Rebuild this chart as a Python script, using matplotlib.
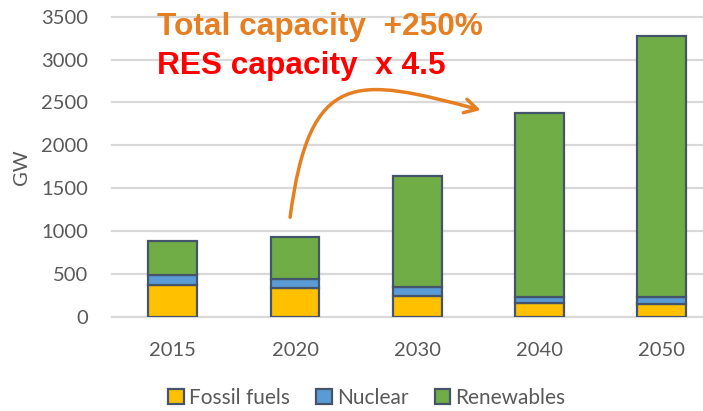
import matplotlib
matplotlib.use("Agg")
import matplotlib.pyplot as plt
from matplotlib.path import Path
from matplotlib.patches import FancyArrowPatch, Patch
import numpy as np

years = ["2015", "2020", "2030", "2040", "2050"]
fossil = [370, 340, 240, 155, 150]
nuclear = [115, 105, 110, 80, 85]
renewables = [400, 485, 1295, 2145, 3045]
yticks = [0, 500, 1000, 1500, 2000, 2500, 3000, 3500]

c_fossil = "#FFC000"
c_nuc = "#5B9BD5"
c_ren = "#70AD47"
edge = "#44546A"
txt_gray = "#595959"

plt.rcParams['font.family'] = ['Lato', 'DejaVu Sans']

fig = plt.figure(figsize=(7.03, 4.11), dpi=100)
ax = fig.add_axes([0.159, 0.2294, 0.841, 0.7300])

x = np.arange(len(years))
w = 0.4
b1 = np.array(fossil)
b2 = b1 + np.array(nuclear)
ax.bar(x, fossil, w, color=c_fossil, edgecolor=edge, linewidth=1.6, zorder=3)
ax.bar(x, nuclear, w, bottom=b1, color=c_nuc, edgecolor=edge, linewidth=1.6, zorder=3)
ax.bar(x, renewables, w, bottom=b2, color=c_ren, edgecolor=edge, linewidth=1.6, zorder=3)

ax.set_xlim(-0.5, 4.34)
ax.set_ylim(0, 3500)
ax.set_yticks(yticks)
ax.set_xticks(x)
ax.set_xticklabels(years)
ax.yaxis.grid(True, color="#D9D9D9", linewidth=1.6, zorder=0)
ax.set_axisbelow(True)
for s in ax.spines.values():
    s.set_visible(False)
ax.tick_params(axis='both', length=0, labelsize=14.5, labelcolor=txt_gray)
ax.tick_params(axis='y', pad=17)
ax.tick_params(axis='x', pad=18)
for gl in ax.get_ygridlines():
    gl.set_clip_on(False)
ax.set_ylabel("GW", fontsize=14.5, color=txt_gray, labelpad=8)

ax.text(-0.13, 3375, "Total capacity  +250%", fontsize=22.8, fontweight='bold',
        color="#E67E22", family=['Liberation Sans', 'DejaVu Sans'], va='center')
ax.text(-0.13, 2920, "RES capacity  x 4.5", fontsize=22.8, fontweight='bold',
        color="#FF0000", family=['Liberation Sans', 'DejaVu Sans'], va='center')

verts = [(0.96, 1160), (1.12, 2900), (1.5, 2800), (2.52, 2410)]
path = Path(verts, [Path.MOVETO, Path.CURVE4, Path.CURVE4, Path.CURVE4])
arrow = FancyArrowPatch(path=path, arrowstyle='->,head_length=9,head_width=5',
                        color="#E67E22", linewidth=2.5, zorder=5)
ax.add_patch(arrow)

handles = [Patch(facecolor=c_fossil, edgecolor=edge, linewidth=1.6),
           Patch(facecolor=c_nuc, edgecolor=edge, linewidth=1.6),
           Patch(facecolor=c_ren, edgecolor=edge, linewidth=1.6)]
leg = fig.legend(handles, ["Fossil fuels", "Nuclear", "Renewables"], loc='center',
                 bbox_to_anchor=(0.522, 0.032), ncol=3, frameon=False, fontsize=15,
                 handlelength=0.75, handleheight=0.75, handletextpad=0.25, columnspacing=1.25)
for t in leg.get_texts():
    t.set_color(txt_gray)

fig.savefig("out.png", dpi=100)
